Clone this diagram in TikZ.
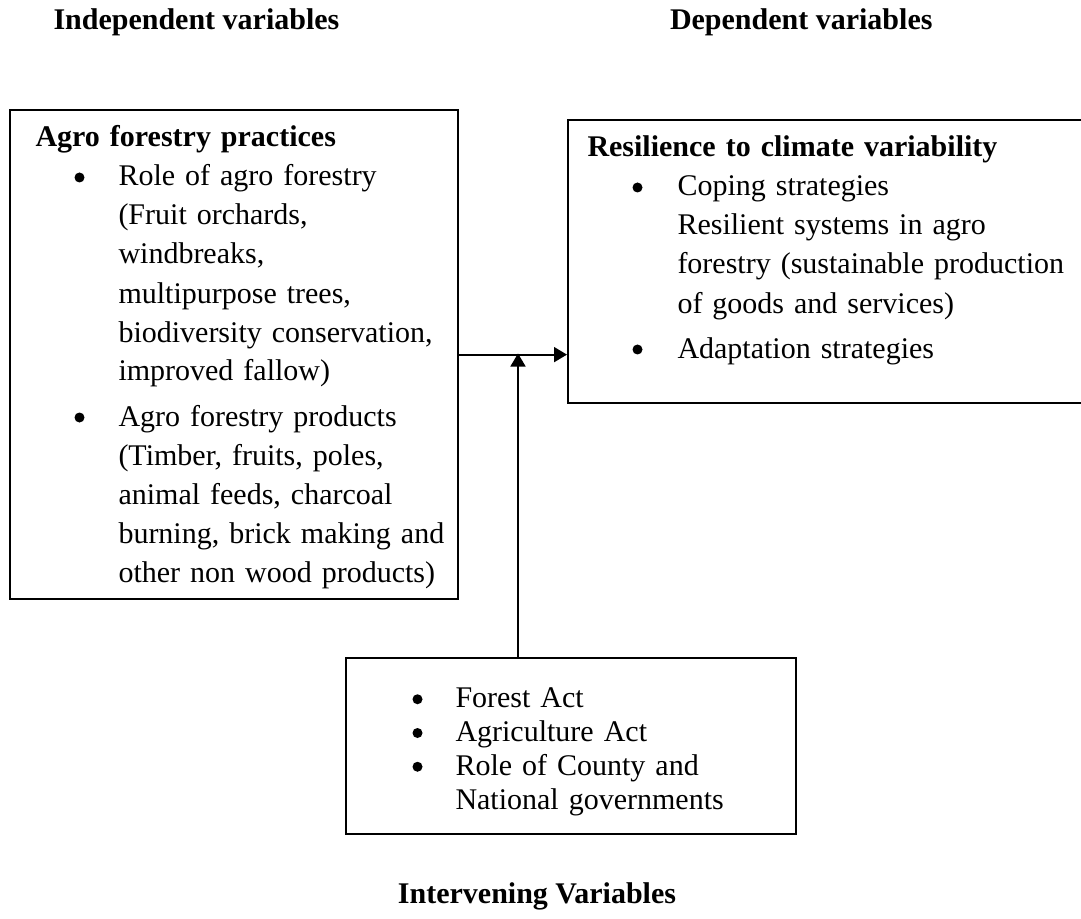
\documentclass[tikz,border=0pt]{standalone}
\usepackage{fontspec}
\setmainfont{Liberation Serif}
\usepackage{enumitem}
\usetikzlibrary{arrows.meta}
\newcommand{\punto}{\tikz[baseline=-3.4pt]\fill (0,0) circle (2pt);}

\begin{document}
\begin{tikzpicture}[x=0.4pt,y=-0.4pt,
    caja/.style={draw,line width=0.9pt,inner sep=0pt,anchor=north west},
    texto/.style={anchor=base west,inner sep=0pt,align=left,font=\fontsize{12}{15.6}\selectfont},
    titulo/.style={inner sep=0pt,font=\fontsize{12}{14}\selectfont\bfseries},
    flecha/.style={line width=0.7pt,-{Triangle[length=5.2pt,width=6pt]}}]
  \useasboundingbox (0,0) rectangle (1081,919);

  % Titulos
  \node[titulo,anchor=base west] (indep) at (53,30) {Independent variables};
  \node[titulo,anchor=base east] (dep) at (933,30) {Dependent variables};
  \node[titulo,anchor=base] (inter) at (537,903) {Intervening Variables};

  % Cajas
  \node[caja,minimum width=179.2pt,minimum height=195.6pt] (agro) at (9,109) {};
  \node[caja,minimum width=213.2pt,minimum height=113.2pt] (resil) at (567,119) {};
  \node[caja,minimum width=180pt,minimum height=70.4pt] (interv) at (345,657) {};

  % Contenido de las cajas
  \node[texto,text width=170pt] (agrotxt) at (35,147) {\textbf{Agro forestry practices}
    \begin{itemize}[label=\punto,leftmargin=33.2pt,labelsep=13.6pt,itemsep=2.4pt,parsep=0pt,topsep=0pt,partopsep=0pt]
      \item Role of agro forestry\\ (Fruit orchards,\\ windbreaks,\\ multipurpose trees,\\ biodiversity conservation,\\ improved fallow)
      \item Agro forestry products\\ (Timber, fruits, poles,\\ animal feeds, charcoal\\ burning, brick making and\\ other non wood products)
    \end{itemize}};
  \node[texto,text width=210pt] (resiltxt) at (587,157) {\textbf{Resilience to climate variability}
    \begin{itemize}[label=\punto,leftmargin=36pt,labelsep=14pt,itemsep=2.4pt,parsep=0pt,topsep=0pt,partopsep=0pt]
      \item Coping strategies\\ Resilient systems in agro\\ forestry (sustainable production\\ of goods and services)
      \item Adaptation strategies
    \end{itemize}};
  \node[texto,text width=160pt,font=\fontsize{12}{13.5}\selectfont] (intervtxt) at (372,674) {%
    \begin{itemize}[label=\punto,leftmargin=33.2pt,labelsep=13.2pt,itemsep=0pt,parsep=0pt,topsep=0pt,partopsep=0pt]
      \item Forest Act
      \item Agriculture Act
      \item Role of County and\\ National governments
    \end{itemize}};

  % Flechas
  \coordinate (cruce) at (518,353.5);
  \draw[flecha] (agro.east) -- (agro.east -| resil.west);
  \draw[flecha] (interv.north -| cruce) -- (cruce);
\end{tikzpicture}
\end{document}
